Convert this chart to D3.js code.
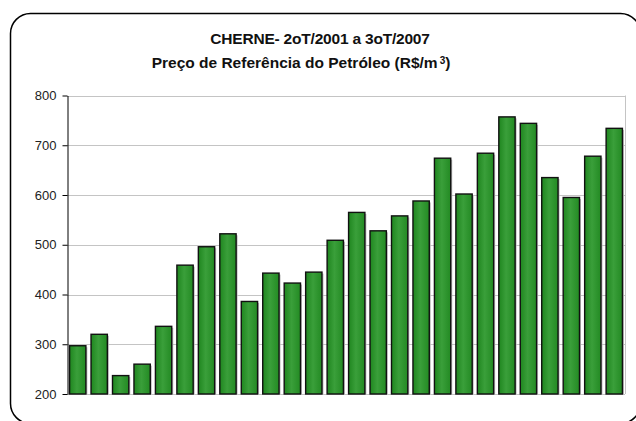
<!DOCTYPE html>
<html>
<head>
<meta charset="utf-8">
<script src="https://cdn.jsdelivr.net/npm/d3@7"></script>
<style>
html,body{margin:0;padding:0;background:#fff;}
svg{display:block;}
</style>
</head>
<body>
<svg id="chart" width="636" height="421"></svg>
<script>
const categories = ["2T01","3T01","4T01","1T02","2T02","3T02","4T02","1T03","2T03","3T03","4T03","1T04","2T04","3T04","4T04","1T05","2T05","3T05","4T05","1T06","2T06","3T06","4T06","1T07","2T07","3T07"];
const values = [297,320,237,260,336,459,496,522,386,443,423,445,509,565,528,558,588,674,602,684,757,744,635,595,678,734];
const yTicks = [200,300,400,500,600,700,800];
const titleLine1 = "CHERNE- 2oT/2001 a 3oT/2007";
const titleLine2 = "Preço de Referência do Petróleo (R$/m";

(function () {
const svg = d3.select("#chart");
const pLeft = 67, pRight = 625, pTop = 95.5, pBottom = 394;

// outer rounded border
svg.append("rect")
  .attr("x", 10.5).attr("y", 13.5)
  .attr("width", 630).attr("height", 410)
  .attr("rx", 20).attr("ry", 20)
  .attr("fill", "#fff").attr("stroke", "#000").attr("stroke-width", 1.5);

// title
const font = "'Liberation Sans', Arial, sans-serif";
svg.append("text").attr("x", 320).attr("y", 44)
  .attr("text-anchor", "middle").attr("font-family", font)
  .attr("font-weight", "bold").attr("font-size", 15.5).attr("fill", "#111")
  .attr("letter-spacing", -0.2)
  .text(titleLine1);
const t2 = svg.append("text").attr("x", 301).attr("y", 68)
  .attr("text-anchor", "middle").attr("font-family", font)
  .attr("font-weight", "bold").attr("font-size", 15.5).attr("fill", "#111");
t2.append("tspan").text(titleLine2);
t2.append("tspan").attr("dx", 2).attr("dy", -4.5).attr("font-size", 10).text("3");
t2.append("tspan").attr("dy", 4.5).text(")");

const x = d3.scaleBand().domain(categories).range([pLeft, pRight]).paddingInner(0.24).paddingOuter(0.12);
const y = d3.scaleLinear().domain([200, 800]).range([pBottom, pTop]);

// gridlines
svg.append("g").selectAll("line").data(yTicks).join("line")
  .attr("x1", pLeft).attr("x2", pRight)
  .attr("y1", d => Math.round(y(d)) + 0.5).attr("y2", d => Math.round(y(d)) + 0.5)
  .attr("stroke", "#c4c4c4").attr("stroke-width", 1);
svg.append("line").attr("x1", pRight + 0.5).attr("x2", pRight + 0.5)
  .attr("y1", y(800)).attr("y2", y(200)).attr("stroke", "#c4c4c4");

// gradient
const defs = svg.append("defs");
const grad = defs.append("linearGradient").attr("id", "g").attr("x1", "0").attr("x2", "1").attr("y1", "0").attr("y2", "0");
grad.append("stop").attr("offset", "0%").attr("stop-color", "#1f861f");
grad.append("stop").attr("offset", "45%").attr("stop-color", "#3a9f3a");
grad.append("stop").attr("offset", "100%").attr("stop-color", "#238a23");

// shadows
svg.append("g").selectAll("rect").data(values).join("rect")
  .attr("x", (d, i) => x(categories[i]) + 1.5)
  .attr("y", d => y(d) + 1.5)
  .attr("width", x.bandwidth())
  .attr("height", d => y(200) - y(d) - 1.5)
  .attr("fill", "#bbb");

// bars
svg.append("g").selectAll("rect").data(values).join("rect")
  .attr("x", (d, i) => x(categories[i]))
  .attr("y", d => y(d))
  .attr("width", x.bandwidth())
  .attr("height", d => y(200) - y(d))
  .attr("fill", "url(#g)").attr("stroke", "#111").attr("stroke-width", 1.4);

// y axis
const yAxis = d3.axisLeft(y).tickValues(yTicks).tickSize(5).tickSizeOuter(0).tickPadding(6).tickFormat(d3.format("d"));
const ga = svg.append("g").attr("transform", `translate(${pLeft + 0.5},0)`).call(yAxis);
ga.select(".domain").attr("stroke", "#000");
ga.selectAll(".tick line").attr("stroke", "#000");
ga.selectAll(".tick text").attr("font-family", font).attr("font-size", 13).attr("fill", "#222");
})();
</script>
</body>
</html>
